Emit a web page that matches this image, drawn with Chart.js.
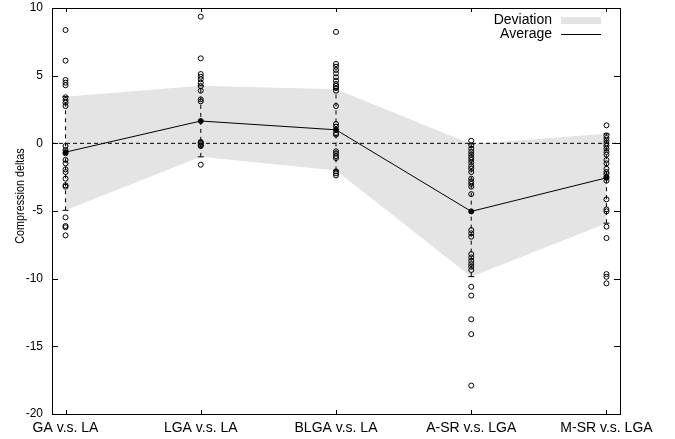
<!DOCTYPE html>
<html lang="en">
<head>
    <meta charset="UTF-8">
    <title>Compression deltas</title>
    <script src="https://cdn.jsdelivr.net/npm/chart.js"></script>
    <style>
        body { margin: 0; background: #fff; }
        canvas { display: block; }
    </style>
</head>
<body>
    <canvas id="deltaChart" width="675" height="439"></canvas>

    <script>
        // categories and values
        const categories = ['GA v.s. LA', 'LGA v.s. LA', 'BLGA v.s. LA', 'A-SR v.s. LGA', 'M-SR v.s. LGA'];
        const yTicks = [-20, -15, -10, -5, 0, 5, 10];

        const gaVsLa = [8.37, 6.11, 4.68, 4.48, 4.29, 3.4, 3.2, 3.0, 2.76, -0.2, -0.5, -0.74, -1.23, -1.48, -1.92, -2.12, -2.61, -3.1, -3.2, -5.47, -6.11, -6.2, -6.8];
        const lgaVsLa = [9.36, 6.28, 5.12, 4.92, 4.73, 4.48, 4.23, 3.89, 3.25, 3.1, 0.1, 0.05, -0.05, -0.15, -0.2, -1.58];
        const blgaVsLa = [8.23, 5.86, 5.66, 5.42, 5.17, 4.88, 4.63, 4.38, 4.23, 4.09, 3.89, 2.76, 1.43, 1.23, 0.74, 0.64, -0.59, -0.74, -0.94, -1.09, -2.07, -2.22, -2.37];
        const asrVsLga = [0.19, -0.15, -0.4, -0.64, -0.84, -1.03, -1.23, -1.43, -1.68, -1.88, -2.12, -2.61, -2.81, -3.0, -3.2, -3.75, -6.41, -6.65, -6.9, -8.18, -8.43, -8.68, -8.92, -9.12, -9.36, -10.6, -11.25, -13.0, -14.1, -17.9];
        const msrVsLga = [1.33, 0.59, 0.39, 0.19, 0, -0.2, -0.4, -0.64, -0.84, -1.23, -1.48, -1.88, -2.12, -2.27, -2.47, -2.76, -4.14, -4.88, -5.03, -6.16, -7.0, -9.66, -9.86, -10.35];
        const samples = [gaVsLa, lgaVsLa, blgaVsLa, asrVsLga, msrVsLga];

        const averages = [-0.65, 1.65, 1.0, -5.03, -2.55];
        const devUpper = [3.45, 4.25, 4.0, -0.05, 0.7];
        const devLower = [-4.95, -1.0, -2.0, -9.85, -5.9];

        const bandColor = 'rgb(228, 228, 228)';
        const xMin = -0.1, xMax = categories.length - 1 + 0.1;

        const toXY = (arr) => arr.map((v, i) => ({ x: i, y: v }));

        // scatter points, one list with all categories
        const scatterPoints = [];
        samples.forEach((arr, i) => arr.forEach(v => scatterPoints.push({ x: i, y: v })));

        // dashed error bars (deviation range)
        const errorBars = categories.map((c, i) => ({
            type: 'line',
            data: [{ x: i, y: devLower[i] }, { x: i, y: devUpper[i] }],
            borderColor: '#000',
            borderWidth: 1,
            borderDash: [4, 4],
            pointStyle: 'line',
            pointRadius: 3,
            pointBorderColor: '#000',
            pointBorderWidth: 1,
            fill: false,
            order: 3
        }));

        // frame, inner ticks, axis title and key, gnuplot style
        const gnuplotDecor = {
            id: 'gnuplotDecor',
            afterDraw(chart) {
                const ctx = chart.ctx;
                const a = chart.chartArea;
                const xs = chart.scales.x, ys = chart.scales.y;
                ctx.save();
                ctx.strokeStyle = '#000';
                ctx.lineWidth = 1;
                ctx.strokeRect(Math.round(a.left) + 0.5, Math.round(a.top) + 0.5,
                    Math.round(a.right - a.left), Math.round(a.bottom - a.top));

                ctx.beginPath();
                yTicks.forEach(v => {
                    const y = Math.round(ys.getPixelForValue(v)) + 0.5;
                    ctx.moveTo(a.left, y); ctx.lineTo(a.left + 6, y);
                    ctx.moveTo(a.right, y); ctx.lineTo(a.right - 6, y);
                });
                categories.forEach((c, i) => {
                    const x = Math.round(xs.getPixelForValue(i)) + 0.5;
                    ctx.moveTo(x, a.bottom); ctx.lineTo(x, a.bottom - 4);
                    ctx.moveTo(x, a.top); ctx.lineTo(x, a.top + 4);
                });
                ctx.stroke();

                // y axis title (a bit condensed along its length, like the original)
                ctx.fillStyle = '#000';
                ctx.font = '12px "Liberation Sans", Arial, sans-serif';
                ctx.textAlign = 'center';
                ctx.textBaseline = 'middle';
                ctx.translate(21, 196);
                ctx.rotate(-Math.PI / 2);
                ctx.scale(0.9, 1);
                ctx.fillText('Compression deltas', 0, 0);
                ctx.restore();

                // key
                ctx.save();
                ctx.font = '14px "Liberation Sans", Arial, sans-serif';
                ctx.textAlign = 'right';
                ctx.textBaseline = 'middle';
                ctx.fillStyle = '#000';
                ctx.fillText('Deviation', 552, 20);
                ctx.fillText('Average', 552, 34);
                ctx.fillStyle = bandColor;
                ctx.fillRect(561, 17, 40, 7);
                ctx.strokeStyle = '#000';
                ctx.lineWidth = 1;
                ctx.beginPath();
                ctx.moveTo(561, 34.5); ctx.lineTo(601, 34.5);
                ctx.stroke();
                ctx.restore();
            }
        };

        const ctx = document.getElementById('deltaChart').getContext('2d');
        new Chart(ctx, {
            type: 'scatter',
            data: {
                datasets: [
                    {
                        type: 'line',
                        label: 'Deviation',
                        data: toXY(devUpper),
                        borderWidth: 0,
                        pointRadius: 0,
                        backgroundColor: bandColor,
                        fill: '+1',
                        order: 6
                    },
                    {
                        type: 'line',
                        label: 'lower',
                        data: toXY(devLower),
                        borderWidth: 0,
                        pointRadius: 0,
                        fill: false,
                        order: 6
                    },
                    {
                        type: 'line',
                        label: 'zero',
                        data: [{ x: xMin, y: 0 }, { x: xMax, y: 0 }],
                        borderColor: '#000',
                        borderWidth: 1,
                        borderDash: [4, 3],
                        pointRadius: 0,
                        fill: false,
                        order: 4
                    },
                    ...errorBars,
                    {
                        label: 'samples',
                        data: scatterPoints,
                        pointStyle: 'circle',
                        pointRadius: 2.5,
                        borderColor: '#000',
                        backgroundColor: 'rgba(0,0,0,0)',
                        borderWidth: 1,
                        order: 2
                    },
                    {
                        type: 'line',
                        label: 'Average',
                        data: toXY(averages),
                        borderColor: '#000',
                        borderWidth: 1,
                        pointRadius: 2.5,
                        pointBackgroundColor: '#000',
                        pointBorderColor: '#000',
                        fill: false,
                        order: 1
                    }
                ]
            },
            options: {
                responsive: false,
                animation: false,
                layout: { padding: { top: 8, right: 55, left: 0, bottom: 0 } },
                plugins: {
                    legend: { display: false },
                    tooltip: { enabled: false }
                },
                scales: {
                    x: {
                        type: 'linear',
                        min: xMin,
                        max: xMax,
                        grid: { display: false, drawTicks: false },
                        border: { display: false },
                        afterBuildTicks: (scale) => {
                            scale.ticks = categories.map((c, i) => ({ value: i }));
                        },
                        afterFit: (scale) => {
                            scale.height = 25;
                            scale.paddingLeft = 0;
                            scale.paddingRight = 0;
                        },
                        ticks: {
                            autoSkip: false,
                            maxRotation: 0,
                            padding: 6,
                            color: '#000',
                            font: { family: '"Liberation Sans", Arial, sans-serif', size: 14 },
                            callback: (value) => categories[value]
                        }
                    },
                    y: {
                        min: -20,
                        max: 10,
                        grid: { display: false, drawTicks: false },
                        border: { display: false },
                        afterBuildTicks: (scale) => {
                            scale.ticks = yTicks.map(v => ({ value: v }));
                        },
                        afterFit: (scale) => {
                            scale.width = 52;
                            scale.paddingTop = 0;
                            scale.paddingBottom = 0;
                        },
                        ticks: {
                            padding: 9,
                            color: '#000',
                            font: { family: '"Liberation Sans", Arial, sans-serif', size: 12 }
                        }
                    }
                }
            },
            plugins: [gnuplotDecor]
        });
    </script>
</body>
</html>
